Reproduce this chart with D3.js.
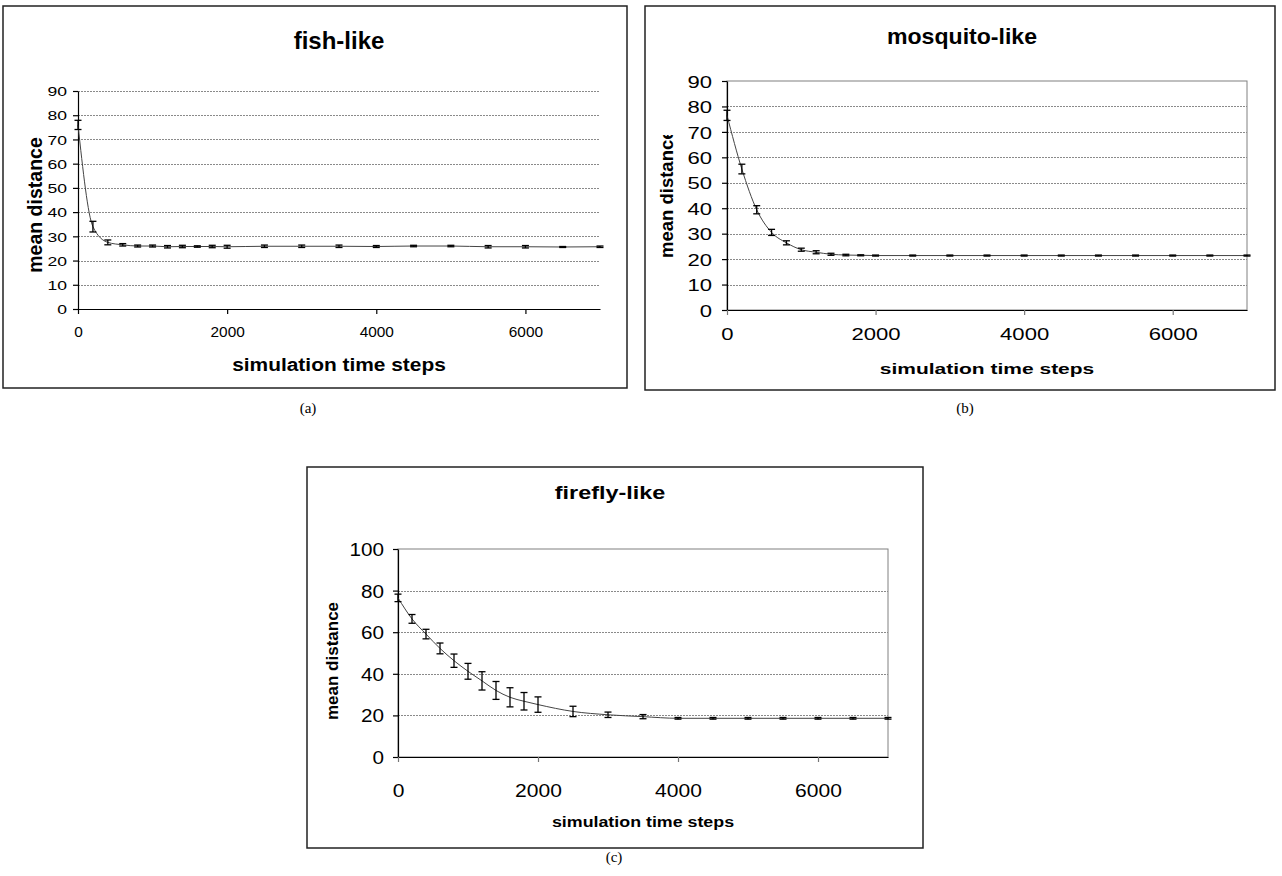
<!DOCTYPE html>
<html><head><meta charset="utf-8">
<script src="https://cdn.jsdelivr.net/npm/d3@7/dist/d3.min.js"></script>
<style>body{margin:0;background:#fff} svg{display:block} text{font-family:"Liberation Sans",Arial,sans-serif}</style>
</head><body><svg id="chart" width="1282" height="876"></svg>
<script>
// ---------- data ----------
const timeSteps = [0,200,400,600,800,1000,1200,1400,1600,1800,2000,2500,3000,3500,4000,4500,5000,5500,6000,6500,7000];
const fishMean = [76,34,27.5,26.5,26,26,25.7,25.8,25.8,25.8,25.7,25.9,25.9,25.9,25.8,26.0,26.0,25.7,25.7,25.6,25.7];
const fishErr  = [1.9,2.2,1.0,0.5,0.4,0.4,0.5,0.5,0.3,0.5,0.6,0.5,0.5,0.5,0.4,0.3,0.3,0.5,0.5,0.2,0.3];
const mosquitoMean = [76.5,55.4,39.4,30.5,26.4,23.7,22.7,21.9,21.6,21.5,21.4,21.4,21.4,21.4,21.4,21.4,21.4,21.4,21.4,21.4,21.4];
const mosquitoErr  = [2.0,1.9,1.6,1.2,0.8,0.6,0.6,0.4,0.3,0.2,0.2,0.2,0.2,0.2,0.2,0.2,0.2,0.2,0.2,0.2,0.2];
const fireflyMean = [76.5,66.4,59.1,52.2,46.3,41.2,36.6,32.0,28.7,26.8,25.2,21.9,20.3,19.4,18.6,18.6,18.6,18.6,18.6,18.6,18.6];
const fireflyErr  = [1.8,2.1,2.3,2.6,3.2,3.8,4.4,4.3,4.6,4.2,3.7,2.5,1.3,1.0,0.4,0.4,0.4,0.4,0.4,0.4,0.4];
const xTickValues = [0,2000,4000,6000];
const yTicks90 = [0,10,20,30,40,50,60,70,80,90];
const yTicks100 = [0,20,40,60,80,100];
const panelTitles = ["fish-like","mosquito-like","firefly-like"];
const captions = ["(a)","(b)","(c)"];
const xAxisTitle = "simulation time steps";
const yAxisTitle = "mean distance";

// ---------- layout ----------
const panels = [
  { mean: fishMean, err: fishErr, yTicks: yTicks90, title: panelTitles[0], cap: captions[0],
    frame:{x:3,y:6,w:624,h:382}, plot:{l:78,r:600,t:91,b:309}, border:false,
    titleF:24, titleSx:1.0, titleX:339, titleY:49,
    yTickF:13, yTickSx:1.35, yTickPad:11,
    xTickF:14, xTickSx:1.1, xTickY:337,
    xTitleF:19, xTitleSx:1.1, xTitleY:371,
    yTitleF:19.5, yTitleX:42, yTitleY:205, yTitleAnchor:"middle", clipTop:null,
    capX:308, capY:413, tickGrey:false },
  { mean: mosquitoMean, err: mosquitoErr, yTicks: yTicks90, title: panelTitles[1], cap: captions[1],
    frame:{x:645,y:6,w:630,h:384}, plot:{l:727,r:1247,t:81,b:310}, border:true,
    titleF:22, titleSx:1.05, titleX:962, titleY:44,
    yTickF:17, yTickSx:1.3, yTickPad:15,
    xTickF:17, xTickSx:1.3, xTickY:340,
    xTitleF:15, xTitleSx:1.4, xTitleY:374,
    yTitleF:18.5, yTitleX:673, yTitleY:258, yTitleAnchor:"start", clipTop:135,
    capX:965, capY:413, tickGrey:true },
  { mean: fireflyMean, err: fireflyErr, yTicks: yTicks100, title: panelTitles[2], cap: captions[2],
    frame:{x:307,y:467,w:616,h:381}, plot:{l:398,r:888,t:549,b:757}, border:true,
    titleF:18, titleSx:1.3, titleX:610, titleY:499,
    yTickF:18, yTickSx:1.15, yTickPad:14,
    xTickF:18, xTickSx:1.17, xTickY:797,
    xTitleF:15.5, xTitleSx:1.15, xTitleY:827,
    yTitleF:17, yTitleX:338, yTitleY:661, yTitleAnchor:"middle", clipTop:null,
    capX:614, capY:862, tickGrey:true }
];

const svg = d3.select("#chart");

panels.forEach((p, i) => {
  const g = svg.append("g");
  // frame
  g.append("rect").attr("x",p.frame.x).attr("y",p.frame.y).attr("width",p.frame.w).attr("height",p.frame.h)
    .attr("fill","#fff").attr("stroke","#222").attr("stroke-width",1.5);

  const x = d3.scaleLinear().domain([0,7000]).range([p.plot.l,p.plot.r]);
  const yMax = p.yTicks[p.yTicks.length-1];
  const y = d3.scaleLinear().domain([0,yMax]).range([p.plot.b,p.plot.t]);

  // plot border
  if (p.border) {
    g.append("rect").attr("x",x(0)).attr("y",y(yMax)).attr("width",x(7000)-x(0)).attr("height",y(0)-y(yMax))
      .attr("fill","none").attr("stroke","#808080").attr("stroke-width",1);
  }
  // gridlines
  g.append("g").selectAll("line")
    .data(p.yTicks.filter(v => v > 0 && !(p.border && v === yMax)))
    .join("line")
    .attr("x1",x(0)).attr("x2",x(7000))
    .attr("y1",d => Math.round(y(d))+0.5).attr("y2",d => Math.round(y(d))+0.5)
    .attr("stroke","#8a8a8a").attr("stroke-width",1).attr("stroke-dasharray","2,1");

  // y axis
  const ya = g.append("g").attr("transform",`translate(${x(0)},0)`)
    .call(d3.axisLeft(y).tickValues(p.yTicks).tickSize(5).tickSizeOuter(0));
  ya.select(".domain").attr("stroke","#000").attr("stroke-width",1.2);
  ya.selectAll(".tick line").attr("stroke","#000").attr("stroke-width",1.2);
  ya.selectAll(".tick text")
    .attr("x",0).attr("dy","0.36em").attr("fill","#000")
    .attr("text-anchor","end")
    .style("font-size",p.yTickF+"px")
    .attr("transform",`translate(${-p.yTickPad},0) scale(${p.yTickSx},1)`);

  // x axis
  const xa = g.append("g").attr("transform",`translate(0,${y(0)})`)
    .call(d3.axisBottom(x).tickValues(xTickValues).tickSize(5).tickSizeOuter(0).tickFormat(d3.format("d")));
  xa.select(".domain").attr("stroke","#000").attr("stroke-width",1.2);
  xa.selectAll(".tick line").attr("stroke", p.tickGrey ? "#777" : "#000").attr("stroke-width",1.2);
  xa.selectAll(".tick text")
    .attr("y",p.xTickY - y(0)).attr("dy",null).attr("x",0).attr("fill","#000")
    .style("font-size",p.xTickF+"px")
    .attr("transform",`scale(${p.xTickSx},1)`);

  // line
  const pts = timeSteps.map((t,k) => [t, p.mean[k], p.err[k]]);
  g.append("path").datum(pts)
    .attr("fill","none").attr("stroke","#444").attr("stroke-width",1)
    .attr("d", d3.line().x(d => x(d[0])).y(d => y(d[1])).curve(d3.curveMonotoneX));

  // error bars
  const eb = g.append("g").attr("stroke","#000").attr("stroke-width",1.3);
  eb.selectAll("line.v").data(pts).join("line").attr("class","v")
    .attr("x1",d => x(d[0])).attr("x2",d => x(d[0]))
    .attr("y1",d => y(d[1]-d[2])).attr("y2",d => y(d[1]+d[2]));
  eb.selectAll("line.t").data(pts).join("line").attr("class","t")
    .attr("x1",d => x(d[0])-3.5).attr("x2",d => x(d[0])+3.5)
    .attr("y1",d => y(d[1]+d[2])).attr("y2",d => y(d[1]+d[2]));
  eb.selectAll("line.b").data(pts).join("line").attr("class","b")
    .attr("x1",d => x(d[0])-3.5).attr("x2",d => x(d[0])+3.5)
    .attr("y1",d => y(d[1]-d[2])).attr("y2",d => y(d[1]-d[2]));

  // title
  g.append("text").text(p.title)
    .attr("text-anchor","middle").style("font-size",p.titleF+"px").style("font-weight","bold")
    .attr("transform",`translate(${p.titleX},${p.titleY}) scale(${p.titleSx},1)`);
  // x axis title
  g.append("text").text(xAxisTitle)
    .attr("text-anchor","middle").style("font-size",p.xTitleF+"px").style("font-weight","bold")
    .attr("transform",`translate(${(x(0)+x(7000))/2},${p.xTitleY}) scale(${p.xTitleSx},1)`);
  // y axis title
  const yt = g.append("text").text(yAxisTitle)
    .attr("text-anchor",p.yTitleAnchor).style("font-size",p.yTitleF+"px").style("font-weight","bold")
    .attr("transform",`translate(${p.yTitleX},${p.yTitleY}) rotate(-90)`);
  if (p.clipTop !== null) {
    const id = "clip"+i;
    svg.append("defs").append("clipPath").attr("id",id)
      .append("rect").attr("x",p.frame.x).attr("y",p.clipTop).attr("width",100).attr("height",400);
    const wrap = g.append("g").attr("clip-path",`url(#${id})`);
    wrap.node().appendChild(yt.node());
  }
  // caption
  svg.append("text").text(p.cap).attr("x",p.capX).attr("y",p.capY).attr("text-anchor","middle")
    .style("font-family","'Liberation Serif','Times New Roman',serif").style("font-size","15px");
});
</script>
</body></html>
